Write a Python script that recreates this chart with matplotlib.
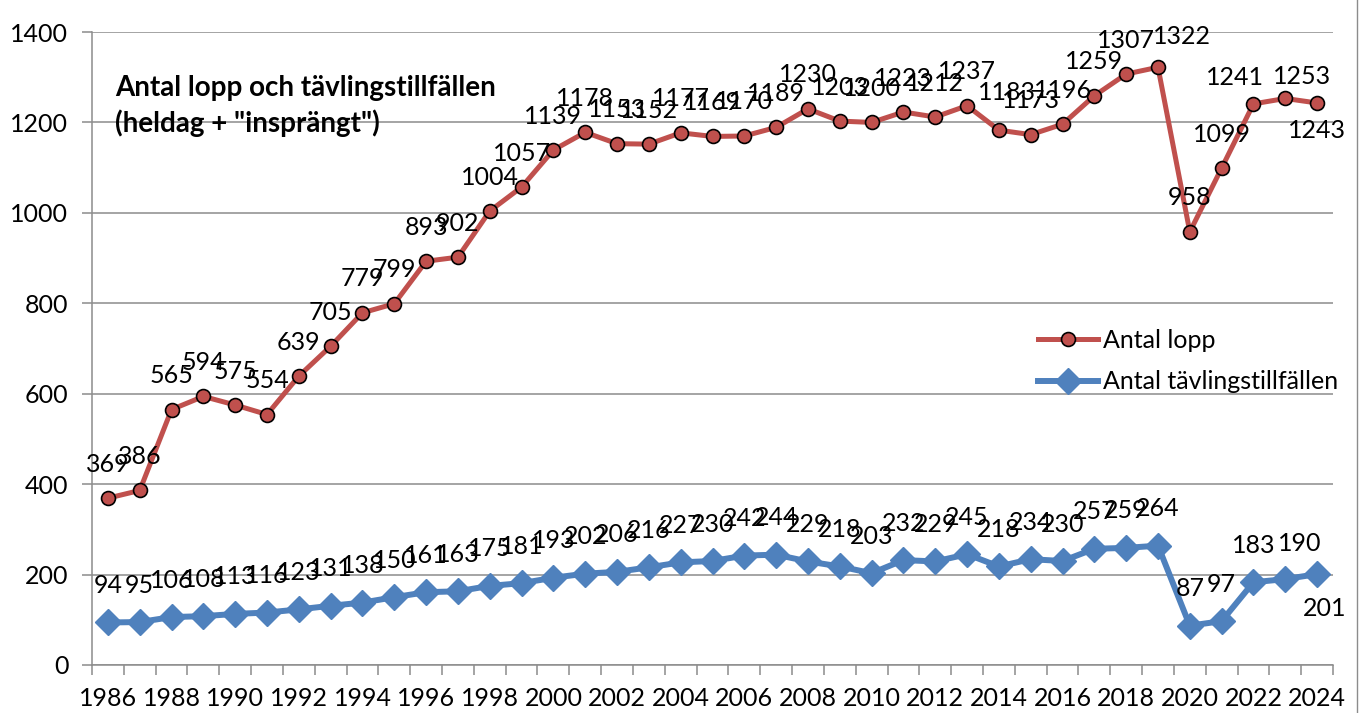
import numpy as np
import matplotlib.pyplot as plt
from matplotlib.lines import Line2D
from matplotlib.ticker import NullFormatter

# data
years = list(range(1986, 2025))
antal_lopp = [369, 386, 565, 594, 575, 554, 639, 705, 779, 799, 893, 902, 1004, 1057,
              1139, 1178, 1153, 1152, 1177, 1169, 1170, 1189, 1230, 1203, 1200, 1223,
              1212, 1237, 1183, 1173, 1196, 1259, 1307, 1322, 958, 1099, 1241, 1253, 1243]
antal_tavling = [94, 95, 106, 108, 113, 116, 123, 131, 138, 150, 161, 163, 175, 181,
                 193, 202, 206, 216, 227, 230, 242, 244, 229, 218, 203, 232, 229, 245,
                 218, 234, 230, 257, 259, 264, 87, 97, 183, 190, 201]

plt.rcParams['font.family'] = ['Lato', 'DejaVu Sans']

red = '#C0504D'
blue = '#4F81BD'
grid = '#8c8c8c'
fs = 18

W, H = 1362, 713
fig = plt.figure(figsize=(W/100, H/100), dpi=100)
ax = fig.add_axes([92/W, 48/H, (1333-92)/W, 633/H])

x = np.arange(len(years))
hb, = ax.plot(x, antal_tavling, color=blue, lw=4.3, marker='D', ms=13, mec=blue,
              label='Antal tävlingstillfällen', zorder=3)
hr, = ax.plot(x, antal_lopp, color=red, lw=3.6, marker='o', ms=10, mec='black', mew=1.2,
              label='Antal lopp', zorder=4)

# data labels (a few were moved by hand in the original)
red_off = {28: (8, 38), 33: (24, 31), 36: (-18, 26), 37: (17, 22), 38: (0, -28)}
blue_off = {37: (14, 36), 38: (8, -34)}
for i, v in enumerate(antal_lopp):
    dx, dy = red_off.get(i, (0, 34))
    ax.annotate(str(v), (x[i], v), xytext=(dx, dy), textcoords='offset pixels',
                ha='center', va='center', fontsize=fs, zorder=5)
for i, v in enumerate(antal_tavling):
    dx, dy = blue_off.get(i, (0, 37))
    ax.annotate(str(v), (x[i], v), xytext=(dx, dy), textcoords='offset pixels',
                ha='center', va='center', fontsize=fs, zorder=5)

ax.set_xlim(-0.5, len(years) - 0.5)
ax.set_ylim(0, 1400)
ax.set_yticks(range(0, 1401, 200))
ax.yaxis.grid(True, color=grid, lw=1.1)
ax.set_axisbelow(True)
for s in ['top', 'right']:
    ax.spines[s].set_visible(False)
for s in ['left', 'bottom']:
    ax.spines[s].set_color(grid)
    ax.spines[s].set_linewidth(1.1)

ax.set_xticks(np.arange(-0.5, len(years)))
ax.xaxis.set_major_formatter(NullFormatter())
ax.set_xticks(x[::2], [str(y) for y in years[::2]], minor=True)
ax.tick_params(axis='x', which='major', length=7, color=grid, width=1.1)
ax.tick_params(axis='x', which='minor', length=0, labelsize=fs, pad=16)
ax.tick_params(axis='y', length=7, color=grid, width=1.1, labelsize=fs, pad=10)

fig.text(115/W, 1 - 106/H, 'Antal lopp och tävlingstillfällen\n(heldag + "insprängt")',
         fontsize=20, fontweight='bold', ha='left', va='center', linespacing=1.38)

ax.legend(handles=[hr, hb], loc='center left', bbox_to_anchor=(1038/W, 1 - 361/H),
          bbox_transform=fig.transFigure, frameon=False, fontsize=fs, handlelength=2.4,
          handletextpad=0.2, labelspacing=0.75, borderpad=0, borderaxespad=0)

fig.add_artist(Line2D([1357/W, 1357/W], [0, 1], transform=fig.transFigure, color=grid, lw=1))

fig.savefig('out.png', dpi=100)
